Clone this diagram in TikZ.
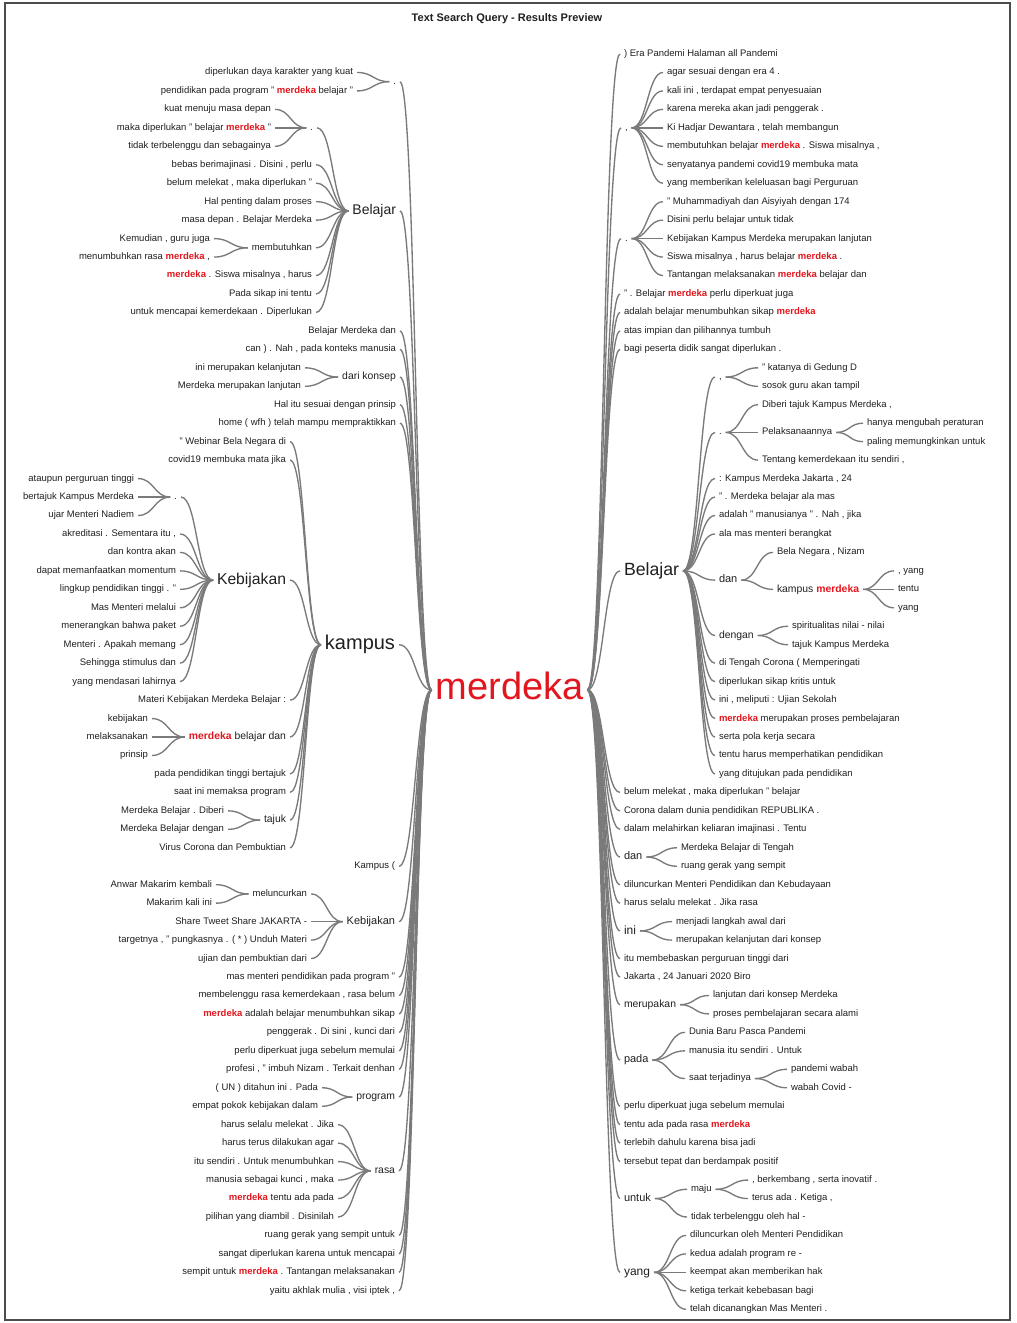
\documentclass[tikz,border=0pt]{standalone}
\usepackage{fontspec}
\setmainfont{Liberation Sans}
\usetikzlibrary{calc}
\definecolor{mred}{RGB}{226,22,30}
\definecolor{lgray}{RGB}{122,122,122}
\newcommand\redm{\textbf{\textcolor{mred}{merdeka}}}
\newcommand\cn[2]{\draw[conn] let \p1=([xshift=4pt]#1.east), \p2=([xshift=-4pt]#2.west), \p3=($(\p1)!0.5!(\p2)$) in (\p1) .. controls (\x3,\y1) and (\x3,\y2) .. (\p2);}
\begin{document}
\begin{tikzpicture}[x=1pt,y=-18.46pt,
  every node/.style={inner sep=0pt, outer sep=0pt, text=black!88},
  s9/.style={font=\fontsize{9.5}{11}\selectfont, text height=7.4pt, text depth=2.5pt},
  s10/.style={font=\fontsize{10.4}{12}\selectfont, text height=8.1pt, text depth=2.7pt},
  s11/.style={font=\fontsize{11}{13}\selectfont, text height=8.6pt, text depth=2.9pt},
  s12/.style={font=\fontsize{12}{14}\selectfont, text height=9.4pt, text depth=3.1pt},
  s14/.style={font=\fontsize{14}{16}\selectfont, text height=10.9pt, text depth=3.6pt},
  s16/.style={font=\fontsize{15.7}{18}\selectfont, text height=12.2pt, text depth=4.1pt},
  s18/.style={font=\fontsize{17.7}{20}\selectfont, text height=13.8pt, text depth=4.6pt},
  s20/.style={font=\fontsize{20}{22}\selectfont, text height=15.6pt, text depth=5.2pt},
  s38/.style={font=\fontsize{38}{40}\selectfont, text height=29.6pt, text depth=9.9pt},
  L/.style={anchor=east, s9}, R/.style={anchor=west, s9},
  conn/.style={draw=lgray, line width=1.35pt}]
\useasboundingbox (0,-2.925) rectangle (1016,68.743);
\draw[line width=1.2pt, black!70] (5,-2.763) rectangle (1010,68.58);
\node[font=\bfseries\fontsize{11}{13}\selectfont] (title) at (507,-1.896) {Text Search Query - Results Preview};
\node[s38, text=mred] (root) at (509.5,34.45) {merdeka};
% ---------- left side ----------
\node[L] (A) at (396,1.5) {.};
\node[L] (l1) at (353,1) {diperlukan daya karakter yang kuat};
\node[L] (l2) at (353,2) {pendidikan pada program " \redm{} belajar "};
\node[L,s14] (bel) at (396,8.5) {Belajar};
\node[L] (B) at (313,4) {.};
\node[L] (l3) at (271,3) {kuat menuju masa depan};
\node[L] (l4) at (271,4) {maka diperlukan " belajar \redm{} "};
\node[L] (l5) at (271,5) {tidak terbelenggu dan sebagainya};
\node[L] (l6) at (312,6) {bebas berimajinasi . Disini , perlu};
\node[L] (l7) at (312,7) {belum melekat , maka diperlukan "};
\node[L] (l8) at (312,8) {Hal penting dalam proses};
\node[L] (l9) at (312,9) {masa depan . Belajar Merdeka};
\node[L] (mem) at (312,10.5) {membutuhkan};
\node[L] (l10) at (210,10) {Kemudian , guru juga};
\node[L] (l11) at (210,11) {menumbuhkan rasa \redm{} ,};
\node[L] (l12) at (312,12) {\redm{} . Siswa misalnya , harus};
\node[L] (l13) at (312,13) {Pada sikap ini tentu};
\node[L] (l14) at (312,14) {untuk mencapai kemerdekaan . Diperlukan};
\node[L] (l15) at (396,15) {Belajar Merdeka dan};
\node[L] (l16) at (396,16) {can ) . Nah , pada konteks manusia};
\node[L,s10] (dk) at (396,17.5) {dari konsep};
\node[L] (l17) at (301,17) {ini merupakan kelanjutan};
\node[L] (l18) at (301,18) {Merdeka merupakan lanjutan};
\node[L] (l19) at (396,19) {Hal itu sesuai dengan prinsip};
\node[L] (l20) at (396,20) {home ( wfh ) telah mampu mempraktikkan};
\node[L,s20] (kam) at (395,32) {kampus};
\node[L] (l21) at (286,21) {" Webinar Bela Negara di};
\node[L] (l22) at (286,22) {covid19 membuka mata jika};
\node[L,s16] (keb1) at (286,28.5) {Kebijakan};
\node[L] (C) at (177,24) {.};
\node[L] (l23) at (134,23) {ataupun perguruan tinggi};
\node[L] (l24) at (134,24) {bertajuk Kampus Merdeka};
\node[L] (l25) at (134,25) {ujar Menteri Nadiem};
\node[L] (l26) at (176,26) {akreditasi . Sementara itu ,};
\node[L] (l27) at (176,27) {dan kontra akan};
\node[L] (l28) at (176,28) {dapat memanfaatkan momentum};
\node[L] (l29) at (176,29) {lingkup pendidikan tinggi . "};
\node[L] (l30) at (176,30) {Mas Menteri melalui};
\node[L] (l31) at (176,31) {menerangkan bahwa paket};
\node[L] (l32) at (176,32) {Menteri . Apakah memang};
\node[L] (l33) at (176,33) {Sehingga stimulus dan};
\node[L] (l34) at (176,34) {yang mendasari lahirnya};
\node[L] (l35) at (286,35) {Materi Kebijakan Merdeka Belajar :};
\node[L,s10] (mbd) at (286,37) {\redm{} belajar dan};
\node[L] (l36) at (148,36) {kebijakan};
\node[L] (l37) at (148,37) {melaksanakan};
\node[L] (l38) at (148,38) {prinsip};
\node[L] (l39) at (286,39) {pada pendidikan tinggi bertajuk};
\node[L] (l40) at (286,40) {saat ini memaksa program};
\node[L,s10] (taj) at (286,41.5) {tajuk};
\node[L] (l41) at (224,41) {Merdeka Belajar . Diberi};
\node[L] (l42) at (224,42) {Merdeka Belajar dengan};
\node[L] (l43) at (286,43) {Virus Corona dan Pembuktian};
\node[L] (l44) at (395,44) {Kampus (};
\node[L,s11] (keb2) at (395,47) {Kebijakan};
\node[L] (mel) at (307,45.5) {meluncurkan};
\node[L] (l45) at (212,45) {Anwar Makarim kembali};
\node[L] (l46) at (212,46) {Makarim kali ini};
\node[L] (l47) at (307,47) {Share Tweet Share JAKARTA -};
\node[L] (l48) at (307,48) {targetnya , " pungkasnya . ( * ) Unduh Materi};
\node[L] (l49) at (307,49) {ujian dan pembuktian dari};
\node[L] (l50) at (395,50) {mas menteri pendidikan pada program "};
\node[L] (l51) at (395,51) {membelenggu rasa kemerdekaan , rasa belum};
\node[L] (l52) at (395,52) {\redm{} adalah belajar menumbuhkan sikap};
\node[L] (l53) at (395,53) {penggerak . Di sini , kunci dari};
\node[L] (l54) at (395,54) {perlu diperkuat juga sebelum memulai};
\node[L] (l55) at (395,55) {profesi , " imbuh Nizam . Terkait denhan};
\node[L,s10] (prog) at (395,56.5) {program};
\node[L] (l56) at (318,56) {( UN ) ditahun ini . Pada};
\node[L] (l57) at (318,57) {empat pokok kebijakan dalam};
\node[L,s10] (rasa) at (395,60.5) {rasa};
\node[L] (l58) at (334,58) {harus selalu melekat . Jika};
\node[L] (l59) at (334,59) {harus terus dilakukan agar};
\node[L] (l60) at (334,60) {itu sendiri . Untuk menumbuhkan};
\node[L] (l61) at (334,61) {manusia sebagai kunci , maka};
\node[L] (l62) at (334,62) {\redm{} tentu ada pada};
\node[L] (l63) at (334,63) {pilihan yang diambil . Disinilah};
\node[L] (l64) at (395,64) {ruang gerak yang sempit untuk};
\node[L] (l65) at (395,65) {sangat diperlukan karena untuk mencapai};
\node[L] (l66) at (395,66) {sempit untuk \redm{} . Tantangan melaksanakan};
\node[L] (l67) at (395,67) {yaitu akhlak mulia , visi iptek ,};
% ---------- right side ----------
\node[R] (r0) at (624,0) {) Era Pandemi Halaman all Pandemi};
\node[R] (D) at (625,4) {,};
\node[R] (r1) at (667,1) {agar sesuai dengan era 4 .};
\node[R] (r2) at (667,2) {kali ini , terdapat empat penyesuaian};
\node[R] (r3) at (667,3) {karena mereka akan jadi penggerak .};
\node[R] (r4) at (667,4) {Ki Hadjar Dewantara , telah membangun};
\node[R] (r5) at (667,5) {membutuhkan belajar \redm{} . Siswa misalnya ,};
\node[R] (r6) at (667,6) {senyatanya pandemi covid19 membuka mata};
\node[R] (r7) at (667,7) {yang memberikan keleluasan bagi Perguruan};
\node[R] (E) at (625,10) {.};
\node[R] (r8) at (667,8) {" Muhammadiyah dan Aisyiyah dengan 174};
\node[R] (r9) at (667,9) {Disini perlu belajar untuk tidak};
\node[R] (r10) at (667,10) {Kebijakan Kampus Merdeka merupakan lanjutan};
\node[R] (r11) at (667,11) {Siswa misalnya , harus belajar \redm{} .};
\node[R] (r12) at (667,12) {Tantangan melaksanakan \redm{} belajar dan};
\node[R] (r13) at (624,13) {" . Belajar \redm{} perlu diperkuat juga};
\node[R] (r14) at (624,14) {adalah belajar menumbuhkan sikap \redm};
\node[R] (r15) at (624,15) {atas impian dan pilihannya tumbuh};
\node[R] (r16) at (624,16) {bagi peserta didik sangat diperlukan .};
\node[R,s18] (belR) at (624,28) {Belajar};
\node[R] (F) at (719,17.5) {,};
\node[R] (r17) at (762,17) {" katanya di Gedung D};
\node[R] (r18) at (762,18) {sosok guru akan tampil};
\node[R] (G) at (719,20.5) {.};
\node[R] (r19) at (762,19) {Diberi tajuk Kampus Merdeka ,};
\node[R] (pel) at (762,20.5) {Pelaksanaannya};
\node[R] (r20) at (867,20) {hanya mengubah peraturan};
\node[R] (r21) at (867,21) {paling memungkinkan untuk};
\node[R] (r22) at (762,22) {Tentang kemerdekaan itu sendiri ,};
\node[R] (r23) at (719,23) {: Kampus Merdeka Jakarta , 24};
\node[R] (r24) at (719,24) {" . Merdeka belajar ala mas};
\node[R] (r25) at (719,25) {adalah " manusianya " . Nah , jika};
\node[R] (r26) at (719,26) {ala mas menteri berangkat};
\node[R,s11] (H) at (719,28.5) {dan};
\node[R] (r27) at (777,27) {Bela Negara , Nizam};
\node[R,s10] (km) at (777,29) {kampus \redm};
\node[R] (r28) at (898,28) {, yang};
\node[R] (r29) at (898,29) {tentu};
\node[R] (r30) at (898,30) {yang};
\node[R,s10] (deng) at (719,31.5) {dengan};
\node[R] (r31) at (792,31) {spiritualitas nilai - nilai};
\node[R] (r32) at (792,32) {tajuk Kampus Merdeka};
\node[R] (r33) at (719,33) {di Tengah Corona ( Memperingati};
\node[R] (r34) at (719,34) {diperlukan sikap kritis untuk};
\node[R] (r35) at (719,35) {ini , meliputi : Ujian Sekolah};
\node[R] (r36) at (719,36) {\redm{} merupakan proses pembelajaran};
\node[R] (r37) at (719,37) {serta pola kerja secara};
\node[R] (r38) at (719,38) {tentu harus memperhatikan pendidikan};
\node[R] (r39) at (719,39) {yang ditujukan pada pendidikan};
\node[R] (r40) at (624,40) {belum melekat , maka diperlukan " belajar};
\node[R] (r41) at (624,41) {Corona dalam dunia pendidikan REPUBLIKA .};
\node[R] (r42) at (624,42) {dalam melahirkan keliaran imajinasi . Tentu};
\node[R,s11] (dan2) at (624,43.5) {dan};
\node[R] (r43) at (681,43) {Merdeka Belajar di Tengah};
\node[R] (r44) at (681,44) {ruang gerak yang sempit};
\node[R] (r45) at (624,45) {diluncurkan Menteri Pendidikan dan Kebudayaan};
\node[R] (r46) at (624,46) {harus selalu melekat . Jika rasa};
\node[R,s12] (ini) at (624,47.5) {ini};
\node[R] (r47) at (676,47) {menjadi langkah awal dari};
\node[R] (r48) at (676,48) {merupakan kelanjutan dari konsep};
\node[R] (r49) at (624,49) {itu membebaskan perguruan tinggi dari};
\node[R] (r50) at (624,50) {Jakarta , 24 Januari 2020 Biro};
\node[R,s10] (mer) at (624,51.5) {merupakan};
\node[R] (r51) at (713,51) {lanjutan dari konsep Merdeka};
\node[R] (r52) at (713,52) {proses pembelajaran secara alami};
\node[R,s11] (pada) at (624,54.5) {pada};
\node[R] (r53) at (689,53) {Dunia Baru Pasca Pandemi};
\node[R] (r54) at (689,54) {manusia itu sendiri . Untuk};
\node[R] (saat) at (689,55.5) {saat terjadinya};
\node[R] (r55) at (791,55) {pandemi wabah};
\node[R] (r56) at (791,56) {wabah Covid -};
\node[R] (r57) at (624,57) {perlu diperkuat juga sebelum memulai};
\node[R] (r58) at (624,58) {tentu ada pada rasa \redm};
\node[R] (r59) at (624,59) {terlebih dahulu karena bisa jadi};
\node[R] (r60) at (624,60) {tersebut tepat dan berdampak positif};
\node[R,s11] (untuk) at (624,62) {untuk};
\node[R] (maju) at (691,61.5) {maju};
\node[R] (r61) at (752,61) {, berkembang , serta inovatif .};
\node[R] (r62) at (752,62) {terus ada . Ketiga ,};
\node[R] (r63) at (691,63) {tidak terbelenggu oleh hal -};
\node[R,s12] (yang) at (624,66) {yang};
\node[R] (r64) at (690,64) {diluncurkan oleh Menteri Pendidikan};
\node[R] (r65) at (690,65) {kedua adalah program re -};
\node[R] (r66) at (690,66) {keempat akan memberikan hak};
\node[R] (r67) at (690,67) {ketiga terkait kebebasan bagi};
\node[R] (r68) at (690,68) {telah dicanangkan Mas Menteri .};
% ---------- connectors left ----------
\foreach \c in {l1,l2} {\cn{\c}{A}}
\foreach \c in {l3,l4,l5} {\cn{\c}{B}}
\foreach \c in {l10,l11} {\cn{\c}{mem}}
\foreach \c in {B,l6,l7,l8,l9,mem,l12,l13,l14} {\cn{\c}{bel}}
\foreach \c in {l17,l18} {\cn{\c}{dk}}
\foreach \c in {l23,l24,l25} {\cn{\c}{C}}
\foreach \c in {C,l26,l27,l28,l29,l30,l31,l32,l33,l34} {\cn{\c}{keb1}}
\foreach \c in {l36,l37,l38} {\cn{\c}{mbd}}
\foreach \c in {l41,l42} {\cn{\c}{taj}}
\foreach \c in {l21,l22,keb1,l35,mbd,l39,l40,taj,l43} {\cn{\c}{kam}}
\foreach \c in {l45,l46} {\cn{\c}{mel}}
\foreach \c in {mel,l47,l48,l49} {\cn{\c}{keb2}}
\foreach \c in {l56,l57} {\cn{\c}{prog}}
\foreach \c in {l58,l59,l60,l61,l62,l63} {\cn{\c}{rasa}}
\foreach \c in {A,bel,l15,l16,dk,l19,l20,kam,l44,keb2,l50,l51,l52,l53,l54,l55,prog,rasa,l64,l65,l66,l67} {\cn{\c}{root}}
% ---------- connectors right ----------
\foreach \c in {r1,r2,r3,r4,r5,r6,r7} {\cn{D}{\c}}
\foreach \c in {r8,r9,r10,r11,r12} {\cn{E}{\c}}
\foreach \c in {r17,r18} {\cn{F}{\c}}
\foreach \c in {r20,r21} {\cn{pel}{\c}}
\foreach \c in {r19,pel,r22} {\cn{G}{\c}}
\foreach \c in {r28,r29,r30} {\cn{km}{\c}}
\foreach \c in {r27,km} {\cn{H}{\c}}
\foreach \c in {r31,r32} {\cn{deng}{\c}}
\foreach \c in {F,G,r23,r24,r25,r26,H,deng,r33,r34,r35,r36,r37,r38,r39} {\cn{belR}{\c}}
\foreach \c in {r43,r44} {\cn{dan2}{\c}}
\foreach \c in {r47,r48} {\cn{ini}{\c}}
\foreach \c in {r51,r52} {\cn{mer}{\c}}
\foreach \c in {r55,r56} {\cn{saat}{\c}}
\foreach \c in {r53,r54,saat} {\cn{pada}{\c}}
\foreach \c in {r61,r62} {\cn{maju}{\c}}
\foreach \c in {maju,r63} {\cn{untuk}{\c}}
\foreach \c in {r64,r65,r66,r67,r68} {\cn{yang}{\c}}
\foreach \c in {r0,D,E,r13,r14,r15,r16,belR,r40,r41,r42,dan2,r45,r46,ini,r49,r50,mer,pada,r57,r58,r59,r60,untuk,yang} {\cn{root}{\c}}
\end{tikzpicture}
\end{document}
